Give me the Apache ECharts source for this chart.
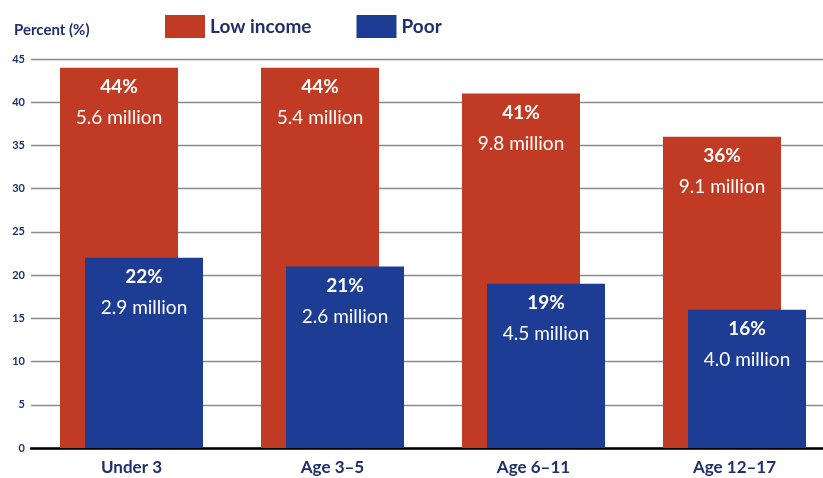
<!DOCTYPE html>
<html><head><meta charset="utf-8">
<script src="https://cdn.jsdelivr.net/npm/echarts@6/dist/echarts.min.js"></script>
<style>html,body{margin:0;padding:0;background:#fff}#c{width:823px;height:478px}</style>
</head><body><div id="c"></div>
<script>
var categories = ['Under 3', 'Age 3–5', 'Age 6–11', 'Age 12–17'];
var lowIncomePct = [44, 44, 41, 36];
var lowIncomeMillions = ['5.6', '5.4', '9.8', '9.1'];
var poorPct = [22, 21, 19, 16];
var poorMillions = ['2.9', '2.6', '4.5', '4.0'];
var yTicks = [0, 5, 10, 15, 20, 25, 30, 35, 40, 45];

var RED = '#c13a23', BLUE = '#1d3d95', NAVY = '#1f2f6e';
var chart = echarts.init(document.getElementById('c'), null, {renderer: 'canvas'});
function lbl(mil) {
  return {
    show: true, position: 'insideTop', distance: 4,
    formatter: function (p) { return '{a|' + p.value + '%}\n{b|' + mil[p.dataIndex] + ' million}'; },
    rich: {
      a: {color: '#fff', fontFamily: 'Lato', fontWeight: 'bold', fontSize: 19, lineHeight: 31},
      b: {color: '#fff', fontFamily: 'Lato', fontSize: 19, lineHeight: 31}
    }
  };
}
chart.setOption({
  animation: false,
  title: {text: 'Percent (%)', left: 9, top: 18, textStyle: {color: NAVY, fontFamily: 'Lato', fontWeight: 'bold', fontSize: 15}},
  legend: {
    left: 160, top: 10, itemWidth: 40, itemHeight: 23, itemGap: 45,
    textStyle: {color: NAVY, fontFamily: 'Lato', fontWeight: 'bold', fontSize: 19},
    data: [{name: 'Low income', icon: 'rect'}, {name: 'Poor', icon: 'rect'}]
  },
  grid: {left: 31, width: 804, top: 59, height: 389, containLabel: false, outerBoundsMode: 'none'},
  xAxis: {
    type: 'category', data: categories,
    axisLine: {lineStyle: {color: '#000', width: 2.5}},
    axisTick: {show: false},
    axisLabel: {color: NAVY, fontFamily: 'Lato', fontWeight: 'bold', fontSize: 17, margin: 11}
  },
  yAxis: {
    type: 'value', min: yTicks[0], max: yTicks[yTicks.length - 1], interval: 5,
    axisLine: {show: false}, axisTick: {show: false},
    axisLabel: {color: NAVY, fontFamily: 'Lato', fontWeight: 'bold', fontSize: 11, margin: 6},
    splitLine: {lineStyle: {color: '#8a8a8a', width: 1.3}}
  },
  series: [
    {name: 'Low income', type: 'bar', data: lowIncomePct, barWidth: 118, barGap: '-78.8%',
     itemStyle: {color: RED}, label: lbl(lowIncomeMillions)},
    {name: 'Poor', type: 'bar', data: poorPct, barWidth: 118,
     itemStyle: {color: BLUE}, label: lbl(poorMillions)}
  ]
});
</script></body></html>
